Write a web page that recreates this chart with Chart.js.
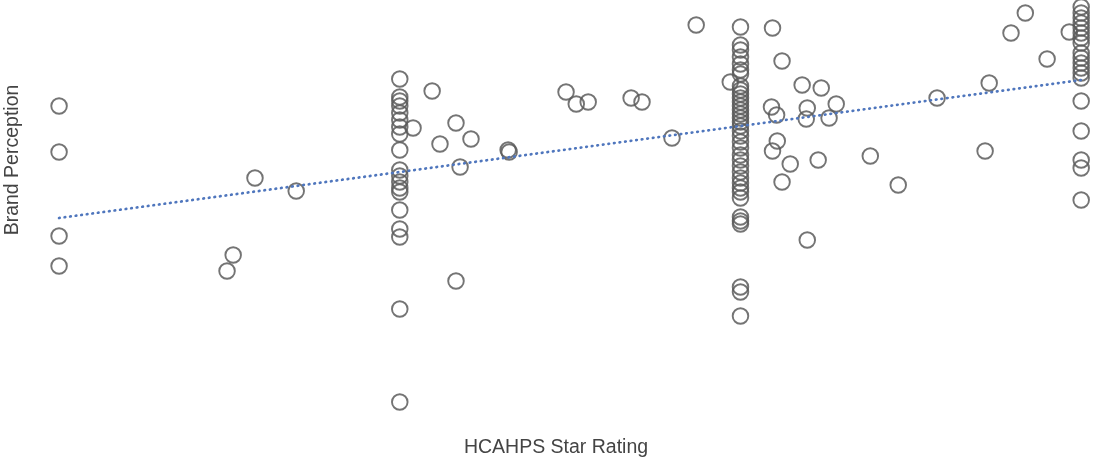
<!DOCTYPE html>
<html>
<head>
<meta charset="utf-8">
<script src="https://cdn.jsdelivr.net/npm/chart.js@4/dist/chart.umd.min.js"></script>
<style>
  html, body { margin: 0; padding: 0; background: #ffffff; }
  #wrap { width: 1094px; height: 459px; }
</style>
</head>
<body>
<div id="wrap"><canvas id="chart" width="1094" height="459"></canvas></div>
<script>
// Hospitals: HCAHPS star rating vs. brand perception score
const starRating = [
  2.00, 2.00, 2.00, 2.00,
  2.493, 2.511, 2.575, 2.696,
  3.00, 3.00, 3.00, 3.00, 3.00, 3.00, 3.00, 3.00, 3.00, 3.00,
  3.00, 3.00, 3.00, 3.00, 3.00, 3.00, 3.00, 3.00, 3.00,
  3.039, 3.095, 3.165, 3.118, 3.209, 3.177, 3.318, 3.321, 3.165,
  3.488, 3.518, 3.553, 3.679, 3.711, 3.799, 3.870, 3.970,
  4.00, 4.00, 4.00, 4.00, 4.00, 4.00, 4.00, 4.00, 4.00, 4.00,
  4.00, 4.00, 4.00, 4.00, 4.00, 4.00, 4.00, 4.00, 4.00, 4.00,
  4.00, 4.00, 4.00, 4.00, 4.00, 4.00, 4.00, 4.00, 4.00, 4.00,
  4.00, 4.00, 4.00, 4.00, 4.00, 4.00, 4.00,
  4.094, 4.122, 4.181, 4.237, 4.281, 4.091, 4.106, 4.196, 4.193, 4.260,
  4.108, 4.094, 4.146, 4.228, 4.122, 4.381, 4.463, 4.196, 4.577, 4.730,
  4.718, 4.794, 4.836, 4.900, 4.965,
  5.00, 5.00, 5.00, 5.00, 5.00, 5.00, 5.00, 5.00, 5.00, 5.00,
  5.00, 5.00, 5.00, 5.00, 5.00, 5.00, 5.00, 5.00, 5.00
];

const brandPerception = [
  76, 64.5, 43.5, 36,
  34.75, 38.75, 58, 54.75,
  82.75, 78.25, 77.25, 76, 74.25, 72.5, 70.75, 69, 65, 60,
  58.5, 57, 55.5, 54.5, 50, 45.25, 43.25, 25.25, 2,
  70.5, 79.75, 71.75, 66.5, 67.75, 60.75, 65, 64.5, 32.25,
  79.5, 76.5, 77, 78, 77, 68, 96.25, 82,
  95.75, 91.25, 90, 88.25, 86.5, 85, 84, 81, 80, 79,
  78, 77, 76, 75, 74, 73, 72, 71, 69.75, 68.5,
  67, 65.5, 63.75, 62.5, 61, 59.5, 58, 56.75, 55.5, 54.5,
  53, 48.25, 47.25, 46.5, 30.75, 29.5, 23.5,
  95.5, 87.25, 81.25, 80.5, 76.5, 75.75, 73.75, 75.5, 72.75, 73,
  67.25, 64.75, 61.5, 62.5, 57, 63.5, 56.25, 42.5, 78, 81.75,
  64.75, 94.25, 99.25, 87.75, 94.5,
  100.75, 99.25, 98, 96.75, 95.5, 94.25, 93, 91.75, 89.25, 88,
  86.75, 85.5, 84.25, 83, 77.25, 69.75, 62.5, 60.5, 52.5
];

// Linear trend line end points
const trendX = [2, 5];
const trendY = [48, 82.5];

const xTitle = 'HCAHPS Star Rating';
const yTitle = 'Brand Perception';

const points = starRating.map((x, i) => ({ x: x, y: brandPerception[i] }));
const trend = trendX.map((x, i) => ({ x: x, y: trendY[i] }));

const TITLE_FONT = '19.5px "Liberation Sans", Arial, sans-serif';
const TITLE_COLOR = '#444444';

// Draws both axis titles (the axes themselves carry no ticks or lines)
const axisTitles = {
  id: 'axisTitles',
  afterDraw(chart) {
    const ctx = chart.ctx;
    ctx.save();
    ctx.font = TITLE_FONT;
    ctx.fillStyle = TITLE_COLOR;
    ctx.textAlign = 'center';
    ctx.textBaseline = 'middle';
    ctx.fillText(xTitle, 556, 448);
    ctx.translate(13, 160);
    ctx.rotate(-Math.PI / 2);
    ctx.fillText(yTitle, 0, 0);
    ctx.restore();
  }
};

new Chart(document.getElementById('chart'), {
  type: 'scatter',
  data: {
    datasets: [
      {
        type: 'line',
        label: 'Trend',
        data: trend,
        borderColor: '#4f76bd',
        borderWidth: 2.7,
        borderCapStyle: 'round',
        borderDash: [0.6, 5],
        pointRadius: 0,
        fill: false,
        clip: false
      },
      {
        label: 'Hospitals',
        data: points,
        pointStyle: 'circle',
        pointRadius: 7.8,
        pointBorderWidth: 1.9,
        pointBorderColor: 'rgba(92,92,92,0.85)',
        pointBackgroundColor: 'rgba(255,255,255,0)',
        showLine: false,
        clip: false
      }
    ]
  },
  options: {
    responsive: false,
    animation: false,
    events: [],
    layout: {
      autoPadding: false,
      padding: { left: 25, right: 6, top: 0, bottom: 29 }
    },
    plugins: {
      legend: { display: false },
      tooltip: { enabled: false }
    },
    scales: {
      x: { type: 'linear', display: false, min: 1.9, max: 5.02 },
      y: { type: 'linear', display: false, min: -5, max: 102.5 }
    }
  },
  plugins: [axisTitles]
});
</script>
</body>
</html>
